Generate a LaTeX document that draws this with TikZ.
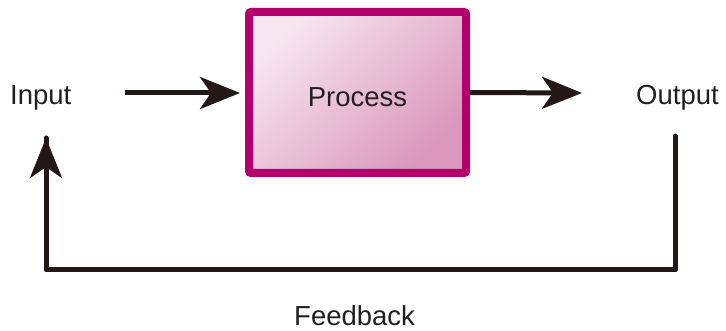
\documentclass[tikz,border=0pt]{standalone}
\usepackage{fontspec}
\setmainfont{Liberation Sans}
\usetikzlibrary{arrows.meta}
\definecolor{boxborder}{HTML}{B4006C}
\definecolor{boxlight}{HTML}{F7E6F0}
\definecolor{boxdark}{HTML}{DA96BB}
\definecolor{arrowcol}{HTML}{231815}
\definecolor{txtcol}{HTML}{231F20}
\begin{document}
\begin{tikzpicture}[x=1pt,y=-1pt,
  lbl/.style={font=\fontsize{27.5}{30}\selectfont, text=txtcol, inner sep=0pt},
  conn/.style={draw=arrowcol, line width=5pt,
    -{Stealth[length=40pt,width=32pt,inset=11pt]}},
  plain/.style={draw=arrowcol, line width=5pt, line join=round, line cap=round},
  procbox/.style={draw=boxborder, line width=8pt, rounded corners=2pt,
    top color=boxlight, bottom color=boxdark, shading angle=45,
    minimum width=217pt, minimum height=161pt, inner sep=0pt}]
\useasboundingbox (0,0) rectangle (726,331);
\node[procbox] (proc) at (357.5,92.5) {};
\node[lbl] (ptext) at (357.5,97) {Process};
\node[lbl, anchor=base west] (in) at (10,105) {Input};
\node[lbl, anchor=base west] (out) at (636,105) {Output};
\node[lbl, anchor=base west] (fb) at (294,326) {Feedback};
\coordinate (inA) at (125,93);
\coordinate (inB) at (240,93);
\coordinate (outB) at (582,93);
\coordinate (fbR) at (675,136);
\coordinate (fbC) at (675,270);
\coordinate (fbD) at (46,270);
\coordinate (fbL) at (46,138);
\draw[conn] (inA) -- (inB);
\draw[conn] (proc.east) -- (outB);
\draw[plain] (fbR) -- (fbC) -- (fbD) -- (fbL);
\draw[conn] (fbD) -- (fbL);
\end{tikzpicture}
\end{document}
